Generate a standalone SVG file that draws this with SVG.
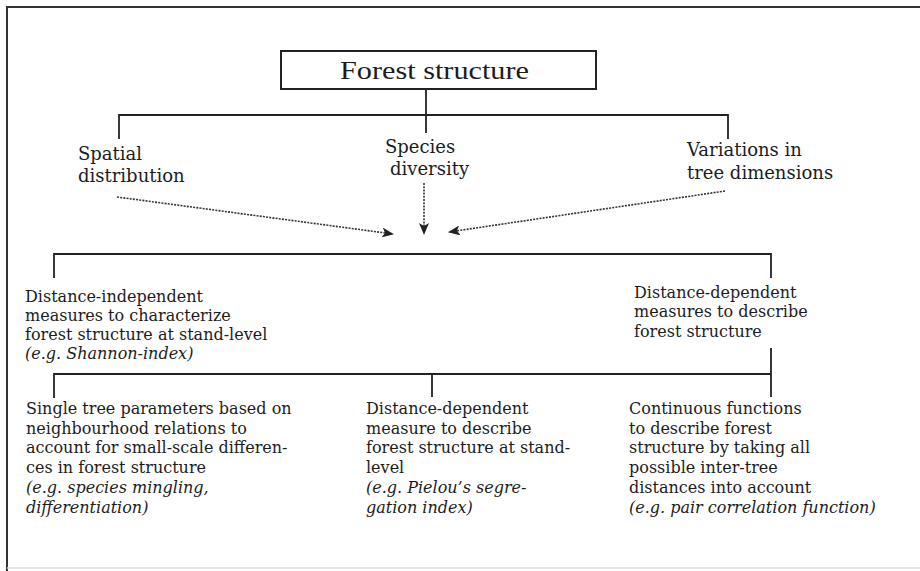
<svg xmlns="http://www.w3.org/2000/svg" width="920" height="571" viewBox="0 0 920 571">
<defs>
<style>
.t{font-family:"DejaVu Serif","Liberation Serif",serif;fill:#1c1c1c}
.lab{font-size:18px}
.b{font-size:16px}
.i{font-style:italic}
.ln{stroke:#222;stroke-width:1.8;fill:none}
.dot{stroke:#333;stroke-width:1.6;stroke-dasharray:2 1.2;fill:none}
</style>
<marker id="ah" viewBox="0 0 12 10" refX="11" refY="5" markerWidth="12" markerHeight="10" markerUnits="userSpaceOnUse" orient="auto">
<path d="M0,0 L12,5 L0,10 L3,5 z" fill="#222"/>
</marker>
</defs>
<rect width="920" height="571" fill="#fff"/>
<g id="frame">
<line x1="6" y1="7" x2="920" y2="7" stroke="#333" stroke-width="2"/>
<line x1="7" y1="6" x2="7" y2="571" stroke="#333" stroke-width="2"/>
<line x1="7" y1="568" x2="920" y2="568" stroke="#ddd" stroke-width="1.5"/>
</g>
<g id="connectors">
<line class="ln" x1="426" y1="89" x2="426" y2="133"/>
<line class="ln" x1="119" y1="115" x2="728" y2="115"/>
<line class="ln" x1="119" y1="114" x2="119" y2="139"/>
<line class="ln" x1="728" y1="114" x2="728" y2="139"/>
<line class="dot" x1="117" y1="197" x2="393" y2="234" marker-end="url(#ah)"/>
<line class="dot" x1="424" y1="183" x2="424" y2="234" marker-end="url(#ah)"/>
<line class="dot" x1="725" y1="191" x2="449" y2="232" marker-end="url(#ah)"/>
<line class="ln" x1="54" y1="254" x2="771" y2="254"/>
<line class="ln" x1="54" y1="253" x2="54" y2="278"/>
<line class="ln" x1="771" y1="253" x2="771" y2="278"/>
<line class="ln" x1="771" y1="348" x2="771" y2="397"/>
<line class="ln" x1="54" y1="374" x2="771" y2="374"/>
<line class="ln" x1="54" y1="373" x2="54" y2="398"/>
<line class="ln" x1="432" y1="373" x2="432" y2="397"/>
</g>
<g id="forest-structure">
<rect x="281" y="51" width="315" height="38" fill="#fff" stroke="#222" stroke-width="2"/>
<text x="340" y="79" font-family="Liberation Serif, serif" font-size="26" fill="#1c1c1c" textLength="189" lengthAdjust="spacingAndGlyphs">Forest structure</text>
</g>
<g id="spatial-distribution">
<text class="t lab" x="78" y="160">Spatial</text>
<text class="t lab" x="78" y="182">distribution</text>
</g>
<g id="species-diversity">
<text class="t lab" x="385" y="153">Species</text>
<text class="t lab" x="390" y="175">diversity</text>
</g>
<g id="variations">
<text class="t lab" x="687" y="156">Variations in</text>
<text class="t lab" x="687" y="179">tree dimensions</text>
</g>
<g id="distance-independent">
<text class="t b" x="25" y="302">Distance-independent</text>
<text class="t b" x="25" y="321">measures to characterize</text>
<text class="t b" x="25" y="340">forest structure at stand-level</text>
<text class="t b i" x="25" y="359">(e.g. Shannon-index)</text>
</g>
<g id="distance-dependent">
<text class="t b" x="634" y="298">Distance-dependent</text>
<text class="t b" x="634" y="317">measures to describe</text>
<text class="t b" x="634" y="337">forest structure</text>
</g>
<g id="single-tree">
<text class="t b" x="26" y="414">Single tree parameters based on</text>
<text class="t b" x="26" y="434">neighbourhood relations to</text>
<text class="t b" x="26" y="453">account for small-scale differen-</text>
<text class="t b" x="26" y="473">ces in forest structure</text>
<text class="t b i" x="26" y="493">(e.g. species mingling,</text>
<text class="t b i" x="26" y="513">differentiation)</text>
</g>
<g id="stand-level">
<text class="t b" x="366" y="414">Distance-dependent</text>
<text class="t b" x="366" y="434">measure to describe</text>
<text class="t b" x="366" y="453">forest structure at stand-</text>
<text class="t b" x="366" y="473">level</text>
<text class="t b i" x="366" y="493">(e.g. Pielou’s segre-</text>
<text class="t b i" x="366" y="513">gation index)</text>
</g>
<g id="continuous">
<text class="t b" x="629" y="414">Continuous functions</text>
<text class="t b" x="629" y="434">to describe forest</text>
<text class="t b" x="629" y="453">structure by taking all</text>
<text class="t b" x="629" y="473">possible inter-tree</text>
<text class="t b" x="629" y="493">distances into account</text>
<text class="t b i" x="629" y="513">(e.g. pair correlation function)</text>
</g>
</svg>
